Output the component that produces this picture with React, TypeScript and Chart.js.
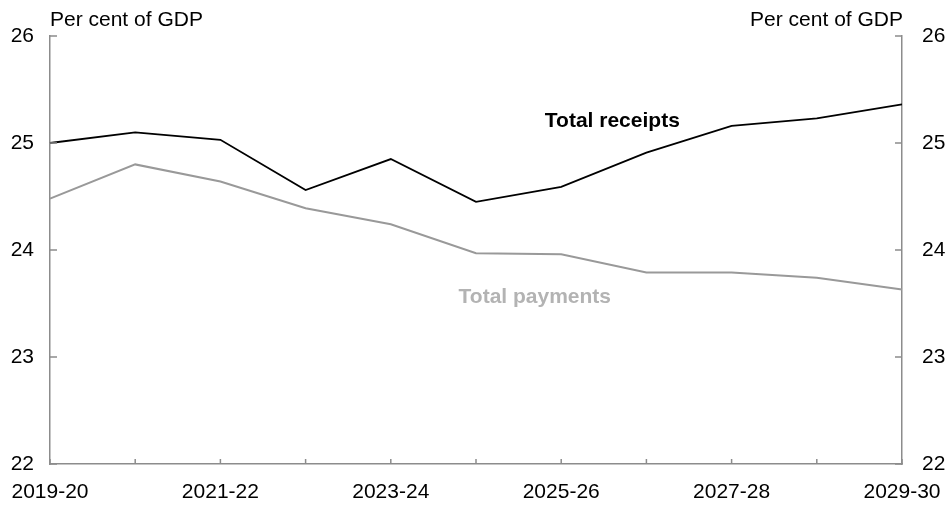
import React, { useEffect, useRef } from "react";
import { Chart, registerables } from "chart.js";

Chart.register(...registerables);

const years = [
  "2019-20", "2020-21", "2021-22", "2022-23", "2023-24", "2024-25",
  "2025-26", "2026-27", "2027-28", "2028-29", "2029-30",
];
const receipts = [25.0, 25.1, 25.03, 24.56, 24.85, 24.45, 24.59, 24.91, 25.16, 25.23, 25.36];
const payments = [24.48, 24.8, 24.64, 24.39, 24.24, 23.97, 23.96, 23.79, 23.79, 23.74, 23.63];
const yMin = 22;
const yMax = 26;
const unitLabel = "Per cent of GDP";
const receiptsLabel = "Total receipts";
const paymentsLabel = "Total payments";

const FONT = "'Liberation Sans', Arial, sans-serif";
const AXIS = "#8c8c8c";

const decorPlugin = {
  id: "decor",
  afterDraw(chart: any) {
    const ctx = chart.ctx;
    const { left, right, bottom, top } = chart.chartArea;
    const xs = chart.scales.x;
    const ys = chart.scales.y;
    ctx.save();
    ctx.strokeStyle = AXIS;
    ctx.lineWidth = 1.5;
    // inward tick marks
    ys.ticks.forEach((t: any) => {
      const y = ys.getPixelForValue(t.value);
      ctx.beginPath();
      ctx.moveTo(left, y);
      ctx.lineTo(left + 7, y);
      ctx.moveTo(right, y);
      ctx.lineTo(right - 7, y);
      ctx.stroke();
    });
    xs.ticks.forEach((t: any, i: number) => {
      const x = xs.getPixelForValue(i);
      ctx.beginPath();
      ctx.moveTo(x, bottom);
      ctx.lineTo(x, bottom - 5);
      ctx.stroke();
    });
    // unit labels
    ctx.fillStyle = "#000";
    ctx.font = `21px ${FONT}`;
    ctx.textBaseline = "middle";
    ctx.textAlign = "left";
    ctx.fillText(unitLabel, left, top - 16);
    ctx.textAlign = "right";
    ctx.fillText(unitLabel, right + 1, top - 16);
    // series annotations
    ctx.font = `bold 21px ${FONT}`;
    ctx.textAlign = "center";
    ctx.fillStyle = "#000";
    ctx.fillText(receiptsLabel, xs.getPixelForValue(6.6), ys.getPixelForValue(25.2));
    ctx.fillStyle = "#b3b3b3";
    ctx.fillText(paymentsLabel, xs.getPixelForValue(5.69), ys.getPixelForValue(23.56));
    ctx.restore();
  },
};

export default function App() {
  const ref = useRef<HTMLCanvasElement | null>(null);
  useEffect(() => {
    if (!ref.current) return;
    const chart = new Chart(ref.current, {
      type: "line",
      data: {
        labels: years,
        datasets: [
          {
            label: receiptsLabel,
            data: receipts,
            borderColor: "#000000",
            borderWidth: 1.8,
            pointRadius: 0,
            tension: 0,
            yAxisID: "y",
          },
          {
            label: paymentsLabel,
            data: payments,
            borderColor: "#999999",
            borderWidth: 2,
            pointRadius: 0,
            tension: 0,
            yAxisID: "y",
          },
        ],
      },
      options: {
        animation: false,
        responsive: true,
        maintainAspectRatio: false,
        layout: { padding: { top: 36, left: 0, right: 0, bottom: 0 } },
        plugins: { legend: { display: false }, tooltip: { enabled: false } },
        scales: {
          x: {
            type: "category",
            offset: false,
            grid: { display: true, drawOnChartArea: false, drawTicks: false },
            border: { display: true, color: AXIS, width: 1.5 },
            ticks: {
              autoSkip: false,
              maxRotation: 0,
              padding: 16,
              color: "#000",
              font: { family: FONT, size: 21 },
              callback: (_v: any, i: number) => (i % 2 === 0 ? years[i] : ""),
            },
            afterFit: (s: any) => {
              s.height = 41;
              s.paddingLeft = 0;
              s.paddingRight = 0;
            },
          },
          y: {
            position: "left",
            min: yMin,
            max: yMax,
            grid: { display: true, drawOnChartArea: false, drawTicks: false },
            border: { display: true, color: AXIS, width: 1.5 },
            ticks: {
              stepSize: 1,
              padding: 16,
              color: "#000",
              font: { family: FONT, size: 21 },
            },
            afterFit: (s: any) => {
              s.width = 50;
            },
          },
          y2: {
            position: "right",
            min: yMin,
            max: yMax,
            grid: { display: true, drawOnChartArea: false, drawTicks: false },
            border: { display: true, color: AXIS, width: 1.5 },
            ticks: {
              stepSize: 1,
              padding: 20,
              color: "#000",
              font: { family: FONT, size: 21 },
            },
            afterFit: (s: any) => {
              s.width = 49;
            },
          },
        },
      },
      plugins: [decorPlugin],
    });
    return () => chart.destroy();
  }, []);
  return (
    <div style={{ position: "absolute", left: 0, top: 0, width: 951, height: 505, background: "#fff" }}>
      <canvas ref={ref} />
    </div>
  );
}
